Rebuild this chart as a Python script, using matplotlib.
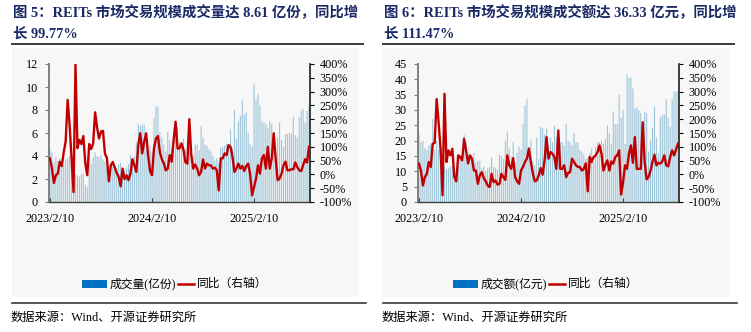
import matplotlib
matplotlib.use("Agg")
import matplotlib.pyplot as plt
from matplotlib.patches import Rectangle
from matplotlib.lines import Line2D
from matplotlib.ticker import FuncFormatter, MultipleLocator

# Weekly observations, first week ending 2023/2/10
weeks = list(range(133))
date_ticks = [0, 52, 104]
date_labels = ["2023/2/10", "2024/2/10", "2025/2/10"]

# REITs weekly trading volume (亿份) and its YoY change (%)
volume = [
    4.5, 4.3, 3.5, 3.9, 3.6, 3.8, 3.5, 3.2, 3.7, 3.8, 4.0, 3.0, 2.8, 2.4, 2.3, 2.2,
    2.4, 2.5, 1.5, 1.3, 3.8, 3.3, 3.9, 4.3, 4.0, 3.9, 4.1, 3.7, 3.5, 3.0, 2.6, 2.9,
    3.1, 2.8, 3.0, 3.3, 3.4, 2.9, 2.7, 3.0, 3.3, 4.1, 3.8, 4.0, 5.2, 6.8, 6.6, 6.7,
    6.7, 5.0, 4.5, 4.9, 4.3, 7.3, 8.3, 8.3, 6.1, 5.6, 5.0, 4.4, 6.1, 5.4, 4.6, 5.6,
    6.0, 6.5, 5.2, 4.7, 5.5, 4.6, 5.4, 4.8, 4.6, 4.1, 5.0, 5.0, 4.5, 6.6, 5.6, 5.0,
    4.9, 4.6, 4.4, 4.0, 3.6, 3.8, 3.4, 4.7, 4.8, 4.9, 5.1, 5.0, 6.3, 4.7, 8.0, 5.5,
    7.0, 7.5, 8.9, 7.6, 7.8, 6.0, 5.0, 4.8, 10.3, 8.9, 9.4, 8.4, 7.0, 6.9, 6.8, 6.4,
    7.0, 6.8, 5.0, 4.2, 5.6, 6.9, 5.4, 4.8, 5.9, 5.9, 6.0, 6.0, 7.4, 5.8, 5.6, 7.4,
    8.0, 8.1, 6.9, 7.9, 8.61,
]
volume_yoy = [
    58, 21, -31, -3, 3, 46, 30, 80, 120, 270, 180, 60, -64, 398, 95, 125,
    110, 139, 40, -3, 110, 92, 112, 225, 170, 130, 155, 158, 75, 60, -25, 33,
    45, 25, 5, -9, -43, 21, -17, -3, -21, 3, 55, 33, 9, 106, 149, 76,
    118, 149, 70, 12, -3, 94, 130, 139, 80, 55, 40, 15, 21, 70, 46, 125,
    191, 94, 94, 112, 90, 45, 39, 200, 70, 21, 36, 21, -3, 9, 54, 21,
    39, 33, 33, 21, 25, 15, -58, 58, 58, 76, 70, 106, 100, 64, 9, 21,
    39, 21, 31, 12, 30, 39, 0, -76, -45, -15, 33, 3, 58, 70, 21, 100,
    21, 58, 149, 58, -21, -15, 3, 33, 46, 15, 15, 19, 18, 43, 27, 15,
    12, 33, 55, 43, 99.77,
]

# REITs weekly turnover (亿元) and its YoY change (%)
turnover = [
    22, 19.5, 20, 17.5, 17, 18.5, 19, 27, 17, 20, 17, 18, 11, 11.5, 10.8, 11,
    11.5, 12, 10, 7.6, 14, 15, 15.7, 21.9, 19.5, 16, 15, 14, 16, 13, 13.5, 13.5,
    11, 11.5, 10, 11, 11.5, 14.5, 11.5, 11, 10.5, 15.5, 15, 14, 20, 23, 17.5, 15,
    19.5, 13, 16, 18, 17, 25.5, 31.5, 33.5, 18, 20, 13.5, 12, 21, 14, 24.5, 24,
    22, 24, 18.5, 21, 19.5, 25, 21, 19.5, 19.5, 19.5, 18.5, 25.5, 20, 19.5, 18.5, 22.5,
    19.5, 19.5, 17, 16.5, 15.5, 14, 14.5, 16, 17.5, 13, 18, 19.5, 19.5, 20, 19, 20.5,
    25, 22.5, 19, 29.5, 25.5, 25.5, 35, 27.5, 30, 19, 41.5, 40.5, 40.5, 37, 30.5, 31,
    30, 29, 26, 29.5, 29, 16.5, 20, 24, 31, 21, 16, 27.5, 28.5, 28.5, 33.5, 27.5,
    24.5, 33.5, 36, 36, 36.33,
]
turnover_yoy = [
    39, 14, -40, -10, 2, 45, 27, 111, 114, 273, 189, 93, -76, 292, 45, 87,
    69, 93, -10, -25, 69, 63, 51, 129, 87, 40, 69, 57, 14, 14, -34, -4,
    8, -13, -25, -40, -46, 2, -28, -22, -37, -34, 2, -10, -20, 69, 33, 20,
    59, -10, -25, -34, 14, 27, 45, 57, 93, 45, 5, -25, -22, -4, 23, -1,
    51, 135, 57, 81, 75, 63, 20, 159, 20, 20, 33, -10, 6, 8, 57, 45,
    33, 27, 27, 14, 20, 40, -61, 63, 45, 63, 69, 81, 105, 75, 14, 35,
    51, 14, 47, 39, 63, 69, 87, -73, -28, 33, 20, 75, 105, 42, 135, 20,
    20, 20, 189, 45, -18, -10, 14, 45, 71, 33, 42, 39, 47, 69, 33, 29,
    63, 87, 69, 90, 111.47,
]

W, H = 751, 332
NAVY = "#1b2a66"
BAR = "#9cc4d8"
BAR_KEY = "#0070c0"
RED = "#c00000"
SERIF_CJK = ["Liberation Serif", "Noto Sans CJK SC"]

fig = plt.figure(figsize=(W / 100, H / 100), dpi=100)
fig.patch.set_facecolor("white")


def fx(px):
    return px / W


def fy(py):
    return 1 - py / H


def panel(x0, title1, title2, bars, yoy, ymax, ystep, bar_name):
    # light backdrop behind the chart block
    fig.add_artist(Rectangle((fx(x0), fy(297)), fx(346), (297 - 48) / H,
                             transform=fig.transFigure, facecolor="#f7f7f7",
                             edgecolor="none", zorder=0))
    # title and rule beneath it
    fig.text(fx(x0 + 1), fy(13), title1, ha="left", va="center", fontsize=10.4,
             fontweight="bold", color=NAVY, family=SERIF_CJK)
    fig.text(fx(x0 + 1), fy(34), title2, ha="left", va="center", fontsize=10.4,
             fontweight="bold", color=NAVY, family=SERIF_CJK)
    fig.add_artist(Line2D([fx(x0), fx(x0 + 351)], [fy(44), fy(44)],
                          transform=fig.transFigure, color="#3a3a3a", lw=1.4))

    ax_left = 49 if x0 < 300 else 418
    ax = fig.add_axes([fx(ax_left), fy(202), fx(261), 138 / H])
    ax.set_facecolor("none")
    ax.bar(weeks, bars, width=0.55, color=BAR, linewidth=0, zorder=1,
           snap=False)
    ax.set_xlim(-0.5, len(weeks) - 0.5)
    ax.set_ylim(0, ymax)
    ax.yaxis.set_major_locator(MultipleLocator(ystep))
    ax.set_xticks(date_ticks)
    ax.set_xticklabels(date_labels)
    ax.spines["top"].set_visible(False)
    ax.spines["right"].set_visible(False)
    ax.spines["left"].set_color("#7f7f7f")
    ax.spines["left"].set_linewidth(1.4)
    ax.spines["bottom"].set_color("#404040")
    ax.spines["bottom"].set_linewidth(1.0)
    ax.tick_params(axis="y", direction="out", length=3, width=0.8,
                   color="#7f7f7f", pad=5, labelsize=8.7)
    ax.tick_params(axis="x", direction="in", length=3, width=0.8,
                   color="#404040", pad=8, labelsize=8.7)

    ax2 = ax.twinx()
    ax2.plot(weeks, yoy, color=RED, lw=1.7, zorder=3, solid_joinstyle="round")
    ax2.set_ylim(-100, 400)
    ax2.yaxis.set_major_locator(MultipleLocator(50))
    ax2.yaxis.set_major_formatter(FuncFormatter(lambda v, p: f"{v:.0f}%"))
    for s in ("top", "left", "bottom"):
        ax2.spines[s].set_visible(False)
    ax2.spines["right"].set_color("#202020")
    ax2.spines["right"].set_linewidth(1.2)
    ax2.tick_params(axis="y", direction="out", length=3, width=0.8, pad=4,
                    labelsize=8.7)

    for a in (ax, ax2):
        for lab in a.get_xticklabels() + a.get_yticklabels():
            lab.set_family("Liberation Serif")

    # legend row
    lx = x0 + 70
    fig.add_artist(Rectangle((fx(lx), fy(288)), fx(25), 8 / H,
                             transform=fig.transFigure, facecolor=BAR_KEY,
                             edgecolor="none"))
    t = fig.text(fx(lx + 28), fy(284), bar_name, ha="left", va="center",
                 fontsize=8.5, family=SERIF_CJK)
    fig.canvas.draw()
    bb = t.get_window_extent()
    end = bb.x1
    fig.add_artist(Line2D([fx(end + 2), fx(end + 18)], [fy(284), fy(284)],
                          transform=fig.transFigure, color=RED, lw=1.8))
    fig.text(fx(end + 21), fy(284), "同比（右轴）", ha="left", va="center",
             fontsize=8.5, family=SERIF_CJK)

    # footer rule and source line
    fig.add_artist(Line2D([fx(x0), fx(x0 + 354)], [fy(303), fy(303)],
                          transform=fig.transFigure, color="#3a3a3a", lw=1.2))
    fig.text(fx(x0 - 1), fy(318), "数据来源：Wind、开源证券研究所", ha="left",
             va="center", fontsize=8.8, family=SERIF_CJK)


panel(12, "图 5：REITs 市场交易规模成交量达 8.61 亿份，同比增",
      "长 99.77%", volume, volume_yoy, 12, 2, "成交量(亿份)")
panel(383, "图 6：REITs 市场交易规模成交额达 36.33 亿元，同比增",
      "长 111.47%", turnover, turnover_yoy, 45, 5, "成交额(亿元)")

fig.savefig("out.png", dpi=100)
